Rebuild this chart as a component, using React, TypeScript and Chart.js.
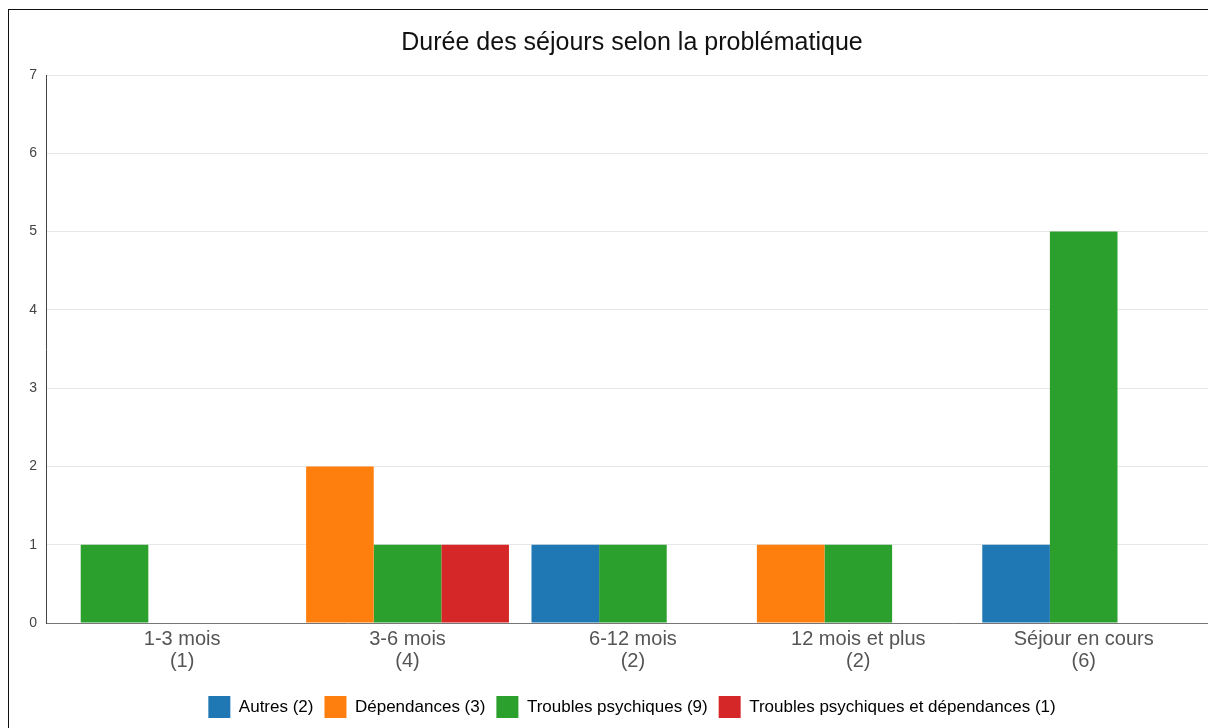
import React, { useEffect, useRef } from "react";
import { Chart, registerables } from "chart.js";

Chart.register(...registerables);

const title = "Durée des séjours selon la problématique";
const categories = ["1-3 mois", "3-6 mois", "6-12 mois", "12 mois et plus", "Séjour en cours"];
const seriesNames = ["Autres", "Dépendances", "Troubles psychiques", "Troubles psychiques et dépendances"];
const seriesColors = ["#1f77b4", "#ff7f0e", "#2ca02c", "#d62728"];
const autres = [0, 0, 1, 0, 1];
const dependances = [0, 2, 0, 1, 0];
const troubles = [1, 1, 1, 1, 5];
const troublesEtDependances = [0, 1, 0, 0, 0];
const yTicks = [0, 1, 2, 3, 4, 5, 6, 7];

const FONT = "'Liberation Sans', Arial, sans-serif";

export default function App() {
  const ref = useRef<HTMLCanvasElement | null>(null);

  useEffect(() => {
    const series = [autres, dependances, troubles, troublesEtDependances];
    const totals = series.map((s) => s.reduce((a, b) => a + b, 0));
    const catTotals = categories.map((_, i) => series.reduce((a, s) => a + s[i], 0));
    const slots = 3;
    const slotData: any[][] = [];
    const slotColors: string[][] = [];
    for (let k = 0; k < slots; k++) {
      slotData.push([]);
      slotColors.push([]);
    }
    categories.forEach((_, i) => {
      const present = series
        .map((s, si) => ({ v: s[i], si }))
        .filter((o) => o.v > 0);
      for (let k = 0; k < slots; k++) {
        const o = present[k];
        slotData[k].push({ x: i, y: o ? o.v : null });
        slotColors[k].push(o ? seriesColors[o.si] : "rgba(0,0,0,0)");
      }
    });

    const chart = new Chart(ref.current as HTMLCanvasElement, {
      type: "bar",
      data: {
        datasets: slotData.map((d, k) => ({
          label: "slot" + k,
          data: d,
          backgroundColor: slotColors[k],
          borderWidth: 0,
          categoryPercentage: 0.9,
          barPercentage: 1,
        })),
      },
      options: {
        animation: false,
        responsive: false,
        maintainAspectRatio: false,
        layout: { padding: { left: 0, right: 0, top: 0, bottom: 42 } },
        plugins: {
          tooltip: { enabled: false },
          title: {
            display: true,
            text: title,
            color: "#111",
            font: { family: FONT, size: 25, weight: "normal", lineHeight: 1.2 },
            padding: { top: 18, bottom: 17 },
          },
          legend: {
            position: "bottom",
            onClick: () => {},
            labels: {
              boxWidth: 22,
              boxHeight: 22,
              padding: 11,
              color: "#222",
              font: { family: FONT, size: 17 },
              generateLabels: () =>
                seriesNames.map((n, i) => ({
                  text: `${n} (${totals[i]})`,
                  fillStyle: seriesColors[i],
                  strokeStyle: seriesColors[i],
                  lineWidth: 0,
                  hidden: false,
                  datasetIndex: 0,
                })),
            },
          },
        },
        scales: {
          x: {
            type: "linear",
            offset: false,
            min: -0.604,
            max: 4.76,
            grid: { display: false, drawTicks: false, offset: false },
            border: { display: true, color: "#777", width: 1 },
            ticks: {
              stepSize: 1,
              includeBounds: false,
              autoSkip: false,
              maxRotation: 0,
              minRotation: 0,
              padding: 5,
              color: "#555",
              font: { family: FONT, size: 20, lineHeight: 1.1 },
              callback: (v: any) => {
                const i = Number(v);
                if (Number.isInteger(i) && i >= 0 && i < categories.length) {
                  return [categories[i], `(${catTotals[i]})`];
                }
                return "";
              },
            },
            afterFit: (scale: any) => {
              scale.height = 62;
            },
          },
          y: {
            min: yTicks[0],
            max: yTicks[yTicks.length - 1],
            grid: { color: "#e6e6e6", drawTicks: false },
            border: { display: true, color: "#444", width: 1 },
            ticks: {
              stepSize: 1,
              padding: 9,
              color: "#444",
              font: { family: FONT, size: 14 },
            },
            afterFit: (scale: any) => {
              scale.width = 37;
            },
          },
        },
      } as any,
    });
    return () => chart.destroy();
  }, []);

  return (
    <div
      style={{
        position: "fixed",
        left: 0,
        top: 0,
        width: "100vw",
        height: "100vh",
        overflow: "hidden",
        background: "#fff",
      }}
    >
      <div
        style={{
          position: "absolute",
          left: 8,
          top: 9,
          width: 1246,
          height: 760,
          border: "1px solid #111",
          background: "#fff",
        }}
      >
        <canvas ref={ref} width={1246} height={760} style={{ display: "block" }} />
      </div>
    </div>
  );
}
